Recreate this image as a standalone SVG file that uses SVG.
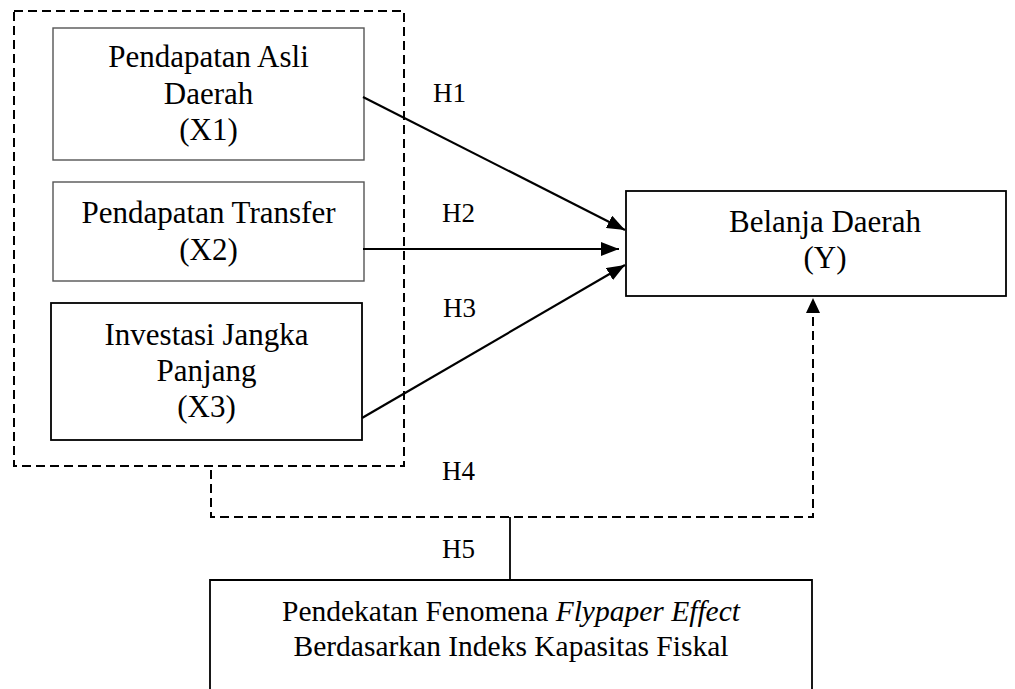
<svg xmlns="http://www.w3.org/2000/svg" width="1015" height="689" viewBox="0 0 1015 689">
<style>
.t{font-family:"Liberation Serif","Times New Roman",serif;font-size:31px;fill:#000;text-anchor:middle}
.b{font-size:29.5px}
.h{font-family:"Liberation Serif","Times New Roman",serif;font-size:27px;fill:#000}
.dash{fill:none;stroke:#000;stroke-width:2;stroke-dasharray:9 5}
.arr{fill:none;stroke:#000;stroke-width:2.2}
.boxg{fill:#fff;stroke:#555;stroke-width:1.4}
.boxb{fill:#fff;stroke:#000;stroke-width:1.8}
</style>
<defs>
<marker id="ah" markerUnits="userSpaceOnUse" markerWidth="18" markerHeight="14" refX="18" refY="7" orient="auto">
<path d="M0,0 L18,7 L0,14 z" fill="#000"/>
</marker>
<marker id="ahd" markerUnits="userSpaceOnUse" markerWidth="15" markerHeight="14" refX="15" refY="7" orient="auto">
<path d="M0,0 L15,7 L0,14 z" fill="#000"/>
</marker>
</defs>
<rect width="1015" height="689" fill="#fff"/>
<g id="group-x">
<rect class="dash" x="14" y="11" width="390" height="455"/>
</g>
<g id="x1">
<rect class="boxg" x="53" y="28" width="311" height="132"/>
<text class="t" x="208.5" y="67">Pendapatan Asli</text>
<text class="t" x="208.5" y="104">Daerah</text>
<text class="t" x="208.5" y="140">(X1)</text>
</g>
<g id="x2">
<rect class="boxg" x="53" y="182" width="311" height="99"/>
<text class="t" x="208.5" y="223">Pendapatan Transfer</text>
<text class="t" x="208.5" y="260">(X2)</text>
</g>
<g id="x3">
<rect class="boxb" x="51" y="303" width="311" height="137"/>
<text class="t" x="206.5" y="345">Investasi Jangka</text>
<text class="t" x="206.5" y="381">Panjang</text>
<text class="t" x="206.5" y="417">(X3)</text>
</g>
<g id="y">
<rect class="boxb" x="626" y="191" width="380" height="105"/>
<text class="t" x="825" y="232">Belanja Daerah</text>
<text class="t" x="825" y="268">(Y)</text>
</g>
<g id="moderator">
<path d="M210,689 L210,580 L812,580 L812,689" fill="#fff" stroke="#000" stroke-width="1.8"/>
<text class="t b" x="511" y="621">Pendekatan Fenomena <tspan font-style="italic">Flypaper Effect</tspan></text>
<text class="t b" x="511" y="656">Berdasarkan Indeks Kapasitas Fiskal</text>
</g>
<g id="connectors">
<line class="arr" x1="363" y1="97" x2="625" y2="230" marker-end="url(#ah)"/>
<line class="arr" x1="363" y1="249" x2="619" y2="249" marker-end="url(#ah)"/>
<line class="arr" x1="362" y1="418" x2="625" y2="265" marker-end="url(#ah)"/>
<path class="dash" d="M211,470 L211,517 L813,517 L813,298" stroke-width="2.2" marker-end="url(#ahd)"/>
<line x1="510" y1="517" x2="510" y2="580" stroke="#000" stroke-width="1.8"/>
<text class="h" x="433" y="102">H1</text>
<text class="h" x="442" y="222">H2</text>
<text class="h" x="443" y="317">H3</text>
<text class="h" x="442" y="480">H4</text>
<text class="h" x="442" y="558">H5</text>
</g>
</svg>
